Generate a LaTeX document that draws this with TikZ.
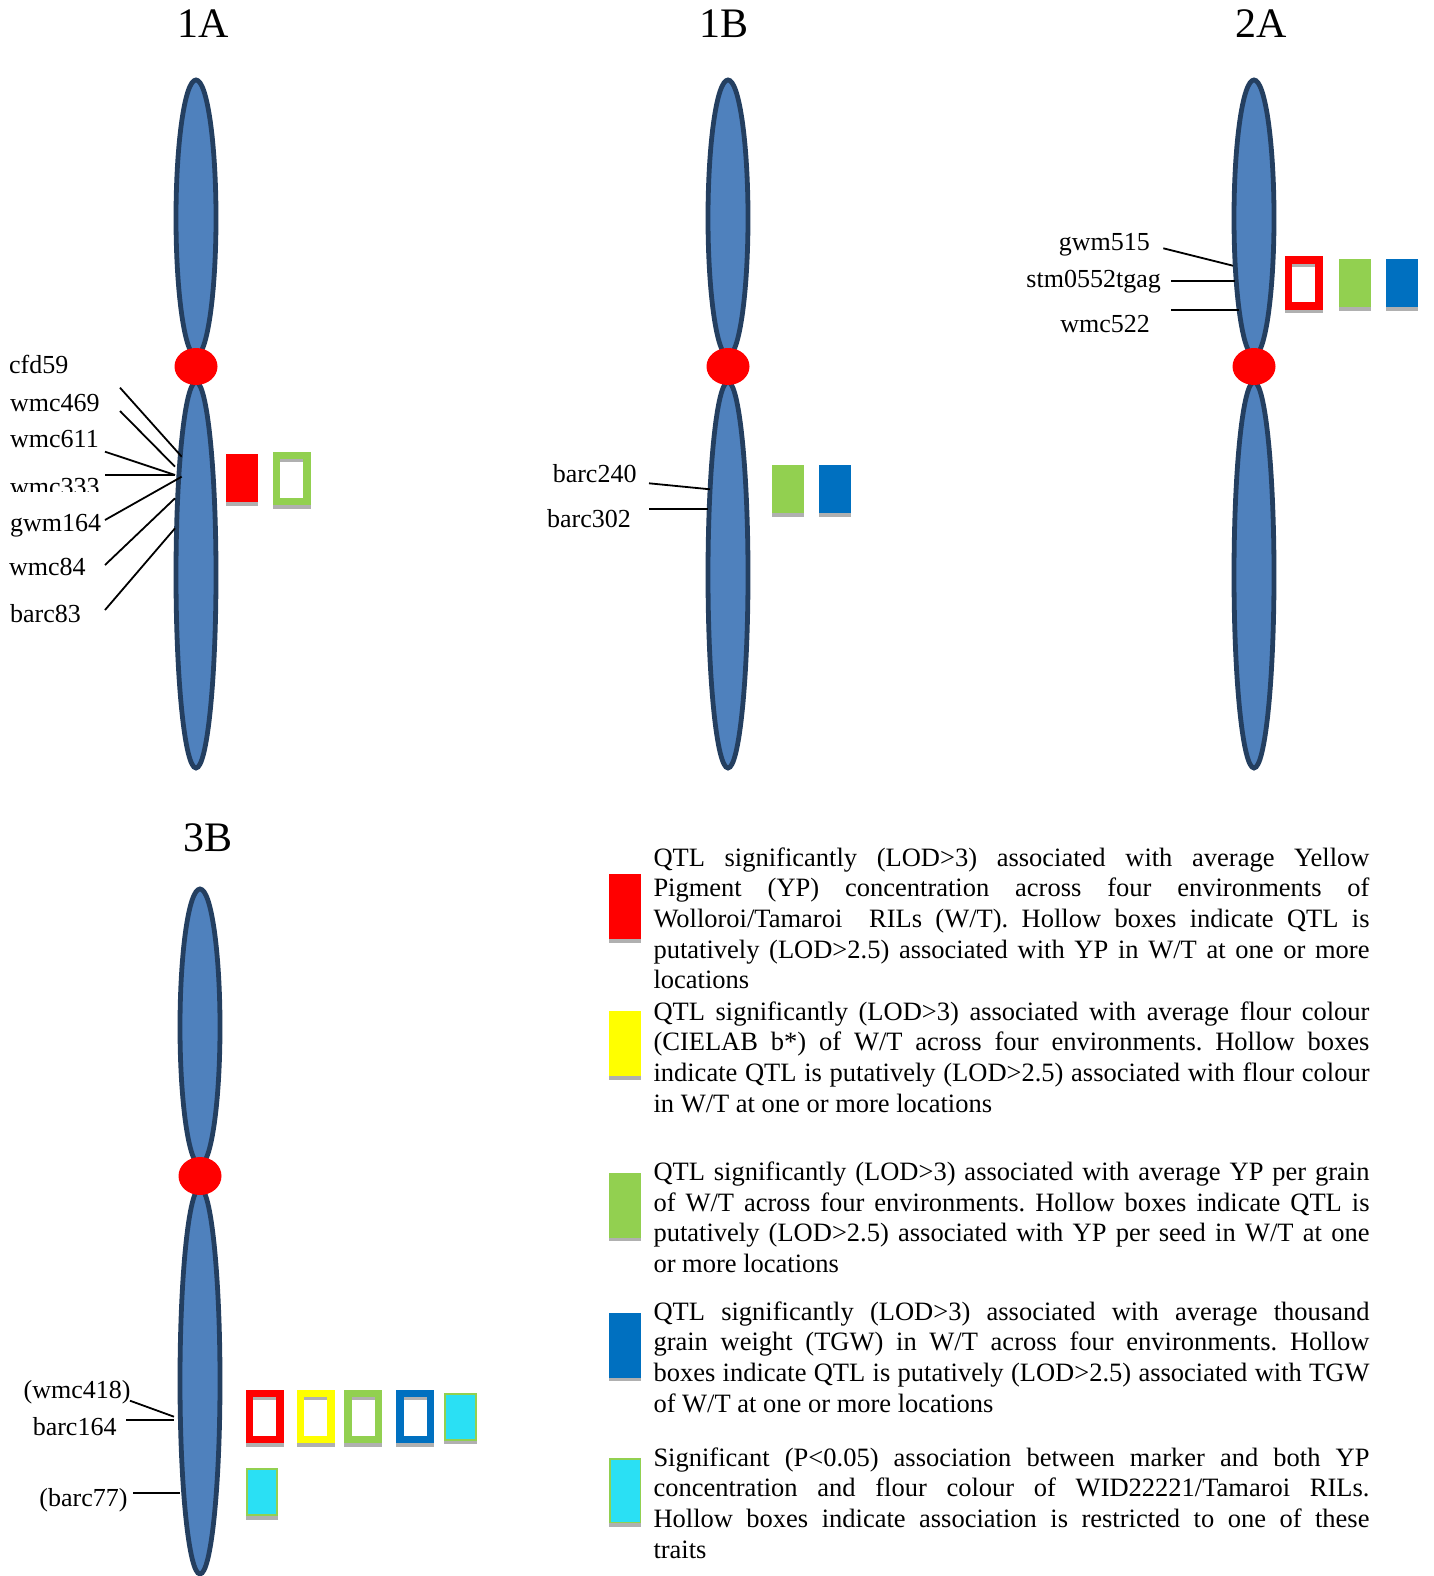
\documentclass[tikz,border=0pt]{standalone}
\usepackage{fontspec}
\setmainfont{Liberation Serif}
\definecolor{chromblue}{HTML}{4F81BD}
\definecolor{chromline}{HTML}{243F60}
\definecolor{qred}{HTML}{FF0000}
\definecolor{qyellow}{HTML}{FFFF00}
\definecolor{qgreen}{HTML}{92D050}
\definecolor{qblue}{HTML}{0070C0}
\definecolor{qcyan}{HTML}{2AE0F4}
\definecolor{stripgray}{HTML}{B0B0B0}
\newcommand\lblfnt{\fontsize{26}{30}\selectfont}
\newcommand\ttlfnt{\fontsize{42}{48}\selectfont}
\newcommand\legfnt{\fontsize{26.5}{30.7}\selectfont}
\newcommand\jline[1]{\makebox[\linewidth][s]{#1}\\}
\frenchspacing
\begin{document}
\begin{tikzpicture}[x=1pt,y=-1pt,
  chromarm/.style={draw=chromline, fill=chromblue, line width=4.8pt},
  centro/.style={fill=qred, draw=none},
  lbl/.style={anchor=base west, inner sep=0pt, font=\lblfnt},
  lblr/.style={anchor=base east, inner sep=0pt, font=\lblfnt},
  ttl/.style={anchor=base, inner sep=0pt, font=\ttlfnt},
  tick/.style={draw=black, line width=1.8pt},
  solidbox/.style={draw=none, fill=#1, minimum width=32pt, minimum height=48pt, inner sep=0pt, outer sep=0pt},
  hollowbox/.style={draw=#1, fill=white, line width=7.5pt, minimum width=30.5pt, minimum height=46pt, inner sep=0pt},
  cyanbox/.style={draw=qgreen, fill=qcyan, line width=2pt, minimum width=30.4pt, minimum height=46.3pt, inner sep=0pt},
  legbox/.style={draw=none, fill=#1, minimum width=31.7pt, minimum height=65pt, inner sep=0pt, outer sep=0pt},
  legcyan/.style={draw=qgreen, fill=qcyan, line width=1.5pt, minimum width=30.2pt, minimum height=63.5pt, inner sep=0pt},
  legtext/.style={anchor=base west, inner sep=0pt, font=\legfnt}
]
\useasboundingbox (0,0) rectangle (1433,1576);

% ---------- chromosome 1A ----------
\draw[chromarm] (196,218) ellipse [x radius=20, y radius=138];
\draw[chromarm] (196,575) ellipse [x radius=20, y radius=193];
\fill[centro] (196,366.5) ellipse [x radius=21.5, y radius=18.5];
\node[ttl] (t1A) at (203,38) {1A};

% ---------- chromosome 1B ----------
\draw[chromarm] (728,218) ellipse [x radius=20, y radius=138];
\draw[chromarm] (728,575) ellipse [x radius=20, y radius=193];
\fill[centro] (728,366.5) ellipse [x radius=21.5, y radius=18.5];
\node[ttl] (t1B) at (724,38) {1B};

% ---------- chromosome 2A ----------
\draw[chromarm] (1254,218) ellipse [x radius=20, y radius=138];
\draw[chromarm] (1254,575) ellipse [x radius=20, y radius=193];
\fill[centro] (1254,366.5) ellipse [x radius=21.5, y radius=18.5];
\node[ttl] (t2A) at (1261,38) {2A};

% ---------- chromosome 3B ----------
\draw[chromarm] (200,1027) ellipse [x radius=20, y radius=138];
\draw[chromarm] (200,1381) ellipse [x radius=20, y radius=193];
\fill[centro] (200,1176) ellipse [x radius=21.5, y radius=19];
\node[ttl] (t3B) at (208,851.5) {3B};

% ---------- markers on 1A ----------
\node[lbl] (cfd59)  at (9,373)   {cfd59};
\node[lbl] (wmc469) at (10,411)  {wmc469};
\node[lbl] (wmc611) at (10,447.5)  {wmc611};
\begin{scope}
  \clip (0,460) rectangle (110,491.7);
  \node[lbl] (wmc333) at (10,495.5) {wmc333};
\end{scope}
\node[lbl] (gwm164) at (10,531)  {gwm164};
\node[lbl] (wmc84)  at (9,575.5)   {wmc84};
\node[lbl] (barc83) at (10,622)  {barc83};

\coordinate (a1s) at (120,387.7);  \coordinate (a1e) at (181.7,456.7);
\coordinate (a2s) at (120,411);    \coordinate (a2e) at (175,466.7);
\coordinate (a3s) at (105,451.7);  \coordinate (a3e) at (175,475);
\coordinate (a4s) at (105,475);    \coordinate (a4e) at (175,475);
\coordinate (a5s) at (105,520);    \coordinate (a5e) at (181.7,476.7);
\coordinate (a6s) at (105,565);    \coordinate (a6e) at (175,498.3);
\coordinate (a7s) at (105,610);    \coordinate (a7e) at (175,528.3);
\foreach \i in {1,...,7} \draw[tick] (a\i s) -- (a\i e);

\node[solidbox=qred]   (b1Ar) at (241.7,478.3) {};
\node[hollowbox=qgreen] (b1Ag) at (291.7,478.7) {};

% ---------- markers on 1B ----------
\node[lblr] (barc240) at (636.7,482.5) {barc240};
\node[lblr] (barc302) at (631,527)     {barc302};
\coordinate (c1s) at (649,483.3);  \coordinate (c1e) at (710,489.3);
\coordinate (c2s) at (649,509.3);  \coordinate (c2e) at (708,509.3);
\draw[tick] (c1s) -- (c1e);
\draw[tick] (c2s) -- (c2e);

\node[solidbox=qgreen] (b1Bg) at (788.3,489.2) {};
\node[solidbox=qblue]  (b1Bb) at (835.3,489.2) {};

% ---------- markers on 2A ----------
\node[lblr] (gwm515) at (1150,250.5)   {gwm515};
\node[lblr] (stm0552tgag) at (1161,287) {stm0552tgag};
\node[lblr] (wmc522) at (1150,332.5) {wmc522};
\coordinate (d1s) at (1163.3,248.3); \coordinate (d1e) at (1233,265.7);
\coordinate (d2s) at (1171,281);     \coordinate (d2e) at (1235,281);
\coordinate (d3s) at (1171,310);     \coordinate (d3e) at (1239,310);
\foreach \i in {1,2,3} \draw[tick] (d\i s) -- (d\i e);

\node[hollowbox=qred]  (b2Ar) at (1303.8,283) {};
\node[solidbox=qgreen] (b2Ag) at (1354.8,283.3) {};
\node[solidbox=qblue]  (b2Ab) at (1402.2,283.3) {};

% ---------- markers on 3B ----------
\node[lblr] (wmc418)  at (130.7,1398.3) {(wmc418)};
\node[lblr] (barc164) at (116.7,1435)   {barc164};
\node[lblr] (barc77)  at (127.7,1506.7) {(barc77)};
\coordinate (e1s) at (130,1400.7);   \coordinate (e1e) at (174,1416.7);
\coordinate (e2s) at (126,1420);     \coordinate (e2e) at (174,1420);
\coordinate (e3s) at (133.3,1492.7); \coordinate (e3e) at (180,1492.7);
\foreach \i in {1,2,3} \draw[tick] (e\i s) -- (e\i e);

\node[hollowbox=qred]    (b3Br) at (264.8,1416.3) {};
\node[hollowbox=qyellow] (b3By) at (315.5,1416.3) {};
\node[hollowbox=qgreen]  (b3Bg) at (363.2,1416.3) {};
\node[hollowbox=qblue]   (b3Bb) at (415.2,1416.3) {};
\node[cyanbox]           (b3Bc) at (460.5,1416.8) {};
\node[cyanbox]           (b3Bd) at (262,1492.2)   {};

% grey strips under the boxes and inside the top of hollow boxes
\foreach \n in {b1Ar,b1Ag,b1Bg,b1Bb,b2Ar,b2Ag,b2Ab,b3Br,b3By,b3Bg,b3Bb,b3Bc,b3Bd}
  \fill[stripgray] (\n.south west) rectangle ([yshift=-3.5pt]\n.south east);
\foreach \n in {b1Ag,b2Ar,b3Br,b3By,b3Bg,b3Bb}
  \fill[stripgray] ([xshift=7.5pt,yshift=-7.5pt]\n.north west) rectangle ([xshift=-7.5pt,yshift=-10.5pt]\n.north east);

% ---------- legend ----------
\node[legbox=qred]    (k1) at (625.2,906.5)  {};
\node[legbox=qyellow] (k2) at (625.2,1043.5) {};
\node[legbox=qgreen]  (k3) at (625.2,1205)   {};
\node[legbox=qblue]   (k4) at (625.2,1345.2) {};
\node[legcyan]        (k5) at (625.2,1490.5) {};
\foreach \n in {k1,k2,k3,k4,k5}
  \fill[stripgray] (\n.south west) rectangle ([yshift=-3.5pt]\n.south east);

\node[legtext] (k1t) at (653.3,866) {\parbox[t]{716pt}{\legfnt
\jline{QTL significantly (LOD>3) associated with average Yellow}
\jline{Pigment (YP) concentration across four environments of}
\jline{Wolloroi/Tamaroi~~RILs (W/T). Hollow boxes indicate QTL is}
\jline{putatively (LOD>2.5) associated with YP in W/T at one or more}
locations}};

\node[legtext] (k2t) at (653.3,1020) {\parbox[t]{716pt}{\legfnt
\jline{QTL significantly (LOD>3) associated with average flour colour}
\jline{(CIELAB b*) of W/T across four environments. Hollow boxes}
\jline{indicate QTL is putatively (LOD>2.5) associated with flour colour}
in W/T at one or more locations}};

\node[legtext] (k3t) at (653.3,1180.5) {\parbox[t]{716pt}{\legfnt
\jline{QTL significantly (LOD>3) associated with average YP per grain}
\jline{of W/T across four environments. Hollow boxes indicate QTL is}
\jline{putatively (LOD>2.5) associated with YP per seed in W/T at one}
or more locations}};

\node[legtext] (k4t) at (653.3,1320) {\parbox[t]{716pt}{\legfnt
\jline{QTL significantly (LOD>3) associated with average thousand}
\jline{grain weight (TGW) in W/T across four environments. Hollow}
\jline{boxes indicate QTL is putatively (LOD>2.5) associated with TGW}
of W/T at one or more locations}};

\node[legtext] (k5t) at (653.3,1466) {\parbox[t]{716pt}{\legfnt
\jline{Significant (P<0.05) association between marker and both YP}
\jline{concentration and flour colour of WID22221/Tamaroi RILs.}
\jline{Hollow boxes indicate association is restricted to one of these}
traits}};
\end{tikzpicture}
\end{document}
